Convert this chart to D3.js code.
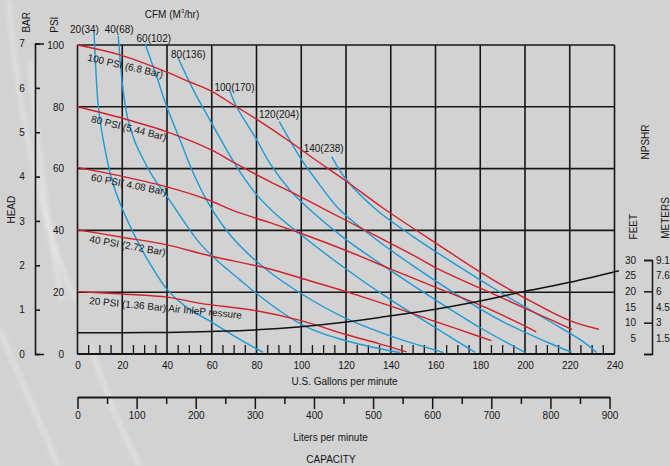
<!DOCTYPE html>
<html><head><meta charset="utf-8">
<script src="https://cdn.jsdelivr.net/npm/d3@7"></script>
<style>
html,body{margin:0;padding:0;background:#d2d2d2;}
svg{display:block;}
text{font-family:"Liberation Sans",Arial,Helvetica,sans-serif;font-size:10px;fill:#151515;}
</style></head><body>
<svg id="c" width="670" height="466"></svg>
<script>
// ---------- data ----------
const gpmTicks = [0,20,40,60,80,100,120,140,160,180,200,220,240];
const lpmTicks = [0,100,200,300,400,500,600,700,800,900];
const psiTicks = [0,20,40,60,80,100];
const barTicks = [0,1,2,3,4,5,6,7];
const feetTicks = [5,10,15,20,25,30];
const meterLabels = ["1.5","3","4.5","6","7.6","9.1"];

// air inlet pressure curves (GPM, PSI)
const red100 = [[0,100],[19,96.8],[40,91.2],[49,88.4],[60,85],[70,80.5],[80,76],[96,68.2],[105,63.5],[120,56],[137,47],[162,35],[180,26.5],[199,18.5],[220,10.8],[233,8]];
const red80  = [[0,80],[20,76.3],[40,71.9],[60,66],[71,61.5],[86,55.8],[98,51.5],[110,47],[130,39.5],[150,32],[162,27.2],[180,21.3],[200,14.8],[221,8]];
const red60  = [[0,60.4],[20,57.5],[40,54.1],[58,50],[70,46.3],[86,42.5],[100,39],[120,33.5],[140,27.5],[162,21],[180,15.8],[195,10.8],[205,7.2]];
const red40  = [[0,40.2],[20,37.8],[40,35.3],[59,31.8],[86,27.5],[100,24.5],[120,20.2],[140,15.5],[160,10.5],[171,7.8],[185,4.3]];
const red20  = [[0,20.2],[20,19.4],[40,18.4],[55,16.4],[80,14],[100,10.8],[120,6.3],[135,3.3],[147,0.7]];
const redLabels = ["100 PSI (6.8 Bar)","80 PSI (5.44 Bar)","60 PSI( 4.08 Bar)","40 PSI (2.72 Bar)","20 PSI (1.36 Bar) Air InleP ressure"];

// air consumption curves (GPM, PSI)
const cfm20  = [[7.4,103.9],[8.2,92],[9.3,80],[11.5,69.3],[15.4,56.3],[20,47],[27.9,35],[33,28.5],[39.9,21],[48,15.5],[60.7,10],[72,5],[83,0.5]];
const cfm40  = [[18.2,102.9],[19.3,93],[20.6,84],[22.5,76],[25.5,69],[29,63.5],[34,57],[40,51],[47,43.5],[54.7,35.8],[62,30.5],[72.6,24],[80,19.6],[90,14.2],[100,9.6],[110,6.5],[120,4.3],[132,2.2],[144,0.5]];
const cfm60  = [[30.2,100.5],[35.4,89.7],[39.9,80],[45.8,69.3],[51.5,59],[57.7,49.8],[65,41.5],[72.6,35],[85,27],[100,19.5],[120,11.5],[140,5.8],[163.5,0.5]];
const cfm80  = [[44.8,96.1],[51.8,85.4],[59.2,75.7],[66.7,66],[73,58.5],[80.1,51.5],[88.3,45.5],[100,38.5],[120,27.5],[140,17.5],[160,8.5],[177.7,0.5]];
const cfm100 = [[67.9,85.4],[71.1,80],[80.1,69.3],[86,61.7],[95,53],[104,46.6],[120,37],[140,27],[160,17.5],[180,8.5],[200,0.5]];
const cfm120 = [[90.2,75.2],[100.2,62.8],[108,55],[117.3,46.6],[130,39],[150,28.5],[170,19],[190,10.5],[210,3.8],[221,0.5]];
const cfm140 = [[113.6,63.9],[120.3,56.3],[133.7,46.6],[150,38],[170,28.5],[190,19.5],[210,11],[225,4.5],[232,0.5]];
const cfmLabels = ["20(34)","40(68)","60(102)","80(136)","100(170)","120(204)","140(238)"];

// NPSHR curve (GPM, feet)
const npshr = [[0,6.8],[20,6.8],[40,6.9],[60,7.2],[80,7.7],[100,8.7],[120,10.2],[140,12.2],[160,14.3],[180,16.9],[200,20],[220,22.9],[242,26.6]];

// ---------- drawing ----------
const svg = d3.select("#c");
const x = d3.scaleLinear().domain([0,240]).range([77.5,614.5]);
const y = d3.scaleLinear().domain([0,100]).range([354,45]);
const yBar = d3.scaleLinear().domain([0,7]).range([354,43.5]);
const xL = d3.scaleLinear().domain([0,900/3.785]).range([x(0), x(900/3.785)]);
const yFt = d3.scaleLinear().domain([0,30]).range([354,260]);

svg.append("rect").attr("width",670).attr("height",466).attr("fill","#d2d2d2");
// faint background streaks
const defs = svg.append("defs");
defs.append("filter").attr("id","bl").append("feGaussianBlur").attr("stdDeviation",2.2);
const streaks = ["M8,0 C20,120 40,220 75,300","M0,330 C20,380 40,420 58,466","M90,345 C105,390 120,430 140,466","M30,60 C38,160 50,240 62,300"];
svg.append("g").attr("filter","url(#bl)").selectAll("path").data(streaks).join("path")
  .attr("d",d=>d).attr("fill","none").attr("stroke","#fff").attr("stroke-opacity",0.35).attr("stroke-width",4);

// grid
const grid = svg.append("g").attr("stroke","#161616").attr("stroke-width",1.6);
grid.selectAll("line.v").data(gpmTicks).join("line").attr("class","v")
  .attr("x1",d=>x(d)).attr("x2",d=>x(d)).attr("y1",y(100)).attr("y2",y(0));
grid.selectAll("line.h").data(psiTicks).join("line").attr("class","h")
  .attr("x1",x(0)).attr("x2",x(240)).attr("y1",d=>y(d)).attr("y2",d=>y(d));
const minor = d3.range(5,240,5).filter(v=>v%20!==0);
grid.selectAll("line.m").data(minor).join("line").attr("class","m").attr("stroke-width",1.3)
  .attr("x1",d=>x(d)).attr("x2",d=>x(d)).attr("y1",y(0)).attr("y2",y(0)-9);
grid.append("line").attr("x1",x(0)).attr("x2",x(240)).attr("y1",y(0)).attr("y2",y(0)).attr("stroke-width",2.2);

// curves
const line = d3.line().x(d=>x(d[0])).y(d=>y(d[1])).curve(d3.curveCatmullRom.alpha(0.5));
const reds = [red100,red80,red60,red40,red20];
const blues = [cfm20,cfm40,cfm60,cfm80,cfm100,cfm120,cfm140];
svg.append("g").selectAll("path").data(blues).join("path")
  .attr("d",line).attr("fill","none").attr("stroke","#1c9ad6").attr("stroke-width",1.4);
svg.append("g").selectAll("path").data(reds).join("path")
  .attr("d",line).attr("fill","none").attr("stroke","#d2202c").attr("stroke-width",1.4);
const lineFt = d3.line().x(d=>x(d[0])).y(d=>yFt(d[1])).curve(d3.curveCatmullRom.alpha(0.5));
svg.append("path").datum(npshr).attr("d",lineFt).attr("fill","none").attr("stroke","#111").attr("stroke-width",1.5);

// red curve labels
const redPos = [[87,60.6,13],[90.5,122,14],[90.5,180.5,11],[89,242.3,10],[89,304,5.5]];
svg.append("g").selectAll("text").data(redLabels).join("text")
  .attr("transform",(d,i)=>`translate(${redPos[i][0]},${redPos[i][1]}) rotate(${redPos[i][2]})`)
  .text(d=>d);

// CFM labels
const cfmPos = [[84.5,29],[119.2,29],[153.8,38.3],[188.3,54.7],[234.5,87.5],[279,114.2],[323.7,148.7]];
svg.append("g").selectAll("text").data(cfmLabels).join("text")
  .attr("x",(d,i)=>cfmPos[i][0]).attr("y",(d,i)=>cfmPos[i][1])
  .attr("text-anchor","middle").attr("dominant-baseline","central").text(d=>d);
const cfmT = svg.append("text").attr("x",172).attr("y",14).attr("text-anchor","middle").attr("dominant-baseline","central");
cfmT.append("tspan").text("CFM (M");
cfmT.append("tspan").attr("font-size","6px").attr("dy",-3).text("3");
cfmT.append("tspan").attr("dy",3).text("/hr)");

// GPM axis labels
const gx = svg.append("g").attr("transform",`translate(0,${y(0)})`)
  .call(d3.axisBottom(x).tickValues(gpmTicks).tickSize(0).tickPadding(8));
gx.select(".domain").remove();
gx.attr("font-family",null).attr("font-size",null);

// Liters axis
const gl = svg.append("g").attr("transform","translate(0,397)");
gl.call(d3.axisBottom(xL).tickValues(d3.range(50,900,100).map(v=>v/3.785)).tickSize(7).tickFormat(""));
gl.select(".domain").remove();
const gl2 = svg.append("g").attr("transform","translate(0,397)")
  .call(d3.axisBottom(xL).tickValues(lpmTicks.map(v=>v/3.785)).tickSize(12).tickSizeOuter(0).tickPadding(3)
        .tickFormat(v=>Math.round(v*3.785)));
[gl,gl2].forEach(g=>{g.attr("font-family",null).attr("font-size",null);
  g.selectAll("line,path").attr("stroke","#161616").attr("stroke-width",1.5);});
gl2.select(".domain").attr("stroke-width",1.8);

// PSI axis labels
const gp = svg.append("g").attr("transform","translate(66,0)")
  .call(d3.axisLeft(y).tickValues(psiTicks).tickSize(0).tickPadding(2));
gp.select(".domain").remove();
gp.attr("font-family",null).attr("font-size",null);

// BAR axis
const gb = svg.append("g").attr("transform","translate(35,0)")
  .call(d3.axisLeft(yBar).tickValues(barTicks).tickSize(-5).tickSizeOuter(-9).tickPadding(0).tickFormat(d3.format("d")));
gb.attr("font-family",null).attr("font-size",null);
gb.selectAll("line,path").attr("stroke","#161616").attr("stroke-width",1.6);
gb.selectAll("text").attr("x",-13).attr("text-anchor","middle");

// NPSHR bracket
const gn = svg.append("g").attr("transform","translate(652,0)")
  .call(d3.axisRight(yFt).tickValues([0,10,20,30]).tickSize(-8).tickSizeOuter(-8).tickFormat(""));
gn.selectAll("line,path").attr("stroke","#161616").attr("stroke-width",1.5);
svg.append("g").selectAll("text").data(feetTicks).join("text")
  .attr("x",636).attr("y",d=>yFt(d)).attr("text-anchor","end").attr("dominant-baseline","central").text(d=>d);
svg.append("g").selectAll("text").data(meterLabels).join("text")
  .attr("x",656).attr("y",(d,i)=>yFt(feetTicks[i])).attr("dominant-baseline","central").text(d=>d);

// titles
const rot = (t,cx,cy)=>svg.append("text").attr("transform",`translate(${cx},${cy}) rotate(-90)`)
  .attr("text-anchor","middle").attr("dominant-baseline","central").text(t);
rot("BAR",26.7,22.3);
rot("PSI",54.5,24.7);
rot("HEAD",11,209.7);
rot("NPSHR",645,142);
rot("FEET",633.3,226.7);
rot("METERS",665.5,218);
svg.append("text").attr("x",344.5).attr("y",381.7).attr("text-anchor","middle").attr("dominant-baseline","central").text("U.S. Gallons per minute");
svg.append("text").attr("x",330.5).attr("y",437.7).attr("text-anchor","middle").attr("dominant-baseline","central").text("Liters per minute");
svg.append("text").attr("x",331).attr("y",459.3).attr("text-anchor","middle").attr("dominant-baseline","central").text("CAPACITY");
</script>
</body></html>
